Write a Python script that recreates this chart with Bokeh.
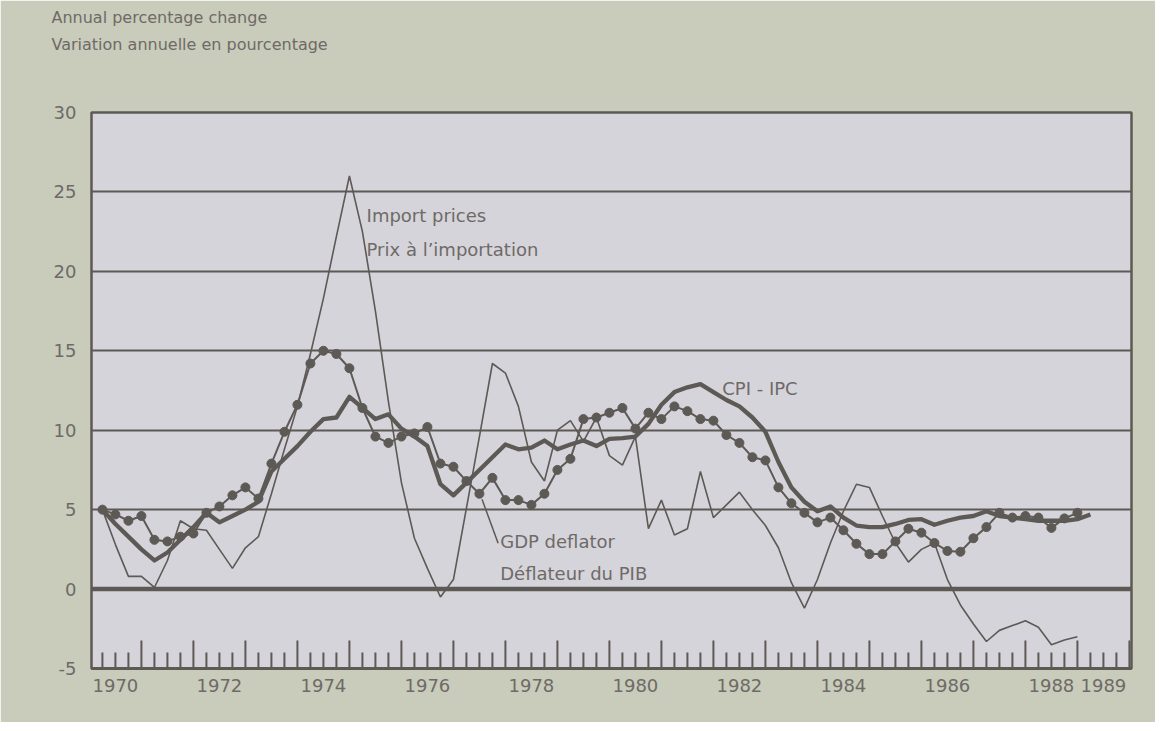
import numpy as np
from bokeh.plotting import figure
from bokeh.models import Range1d, FixedTicker, Label, Span, Title
from bokeh.embed import file_html
from bokeh.resources import INLINE

# ---------------- data (quarterly, annual % change) ----------------
start_year = 1970
gdp_deflator = [5.0, 4.7, 4.3, 4.6, 3.1, 3.0, 3.3, 3.5, 4.8, 5.2, 5.9, 6.4, 5.7, 7.9, 9.9, 11.6,
                14.2, 15.0, 14.8, 13.9, 11.4, 9.6, 9.2, 9.6, 9.8, 10.2, 7.9, 7.7, 6.8, 6.0, 7.0, 5.6,
                5.6, 5.3, 6.0, 7.5, 8.2, 10.7, 10.8, 11.1, 11.4, 10.1, 11.1, 10.7, 11.5, 11.2, 10.7, 10.6,
                9.7, 9.2, 8.3, 8.1, 6.4, 5.4, 4.8, 4.2, 4.5, 3.7, 2.85, 2.2, 2.2, 3.0, 3.8, 3.55,
                2.9, 2.4, 2.35, 3.2, 3.9, 4.8, 4.5, 4.6, 4.5, 3.85, 4.45, 4.8]
cpi = [5.0, 4.1, 3.3, 2.5, 1.8, 2.3, 3.1, 3.9, 4.8, 4.2, 4.6, 5.0, 5.5, 7.4, 8.2, 9.0,
       9.9, 10.7, 10.8, 12.1, 11.4, 10.7, 11.0, 10.1, 9.6, 9.0, 6.6, 5.9, 6.7, 7.5, 8.3, 9.1,
       8.8, 8.9, 9.35, 8.8, 9.1, 9.35, 9.0, 9.45, 9.5, 9.6, 10.4, 11.6, 12.4, 12.7, 12.9, 12.4,
       11.9, 11.5, 10.8, 9.9, 8.0, 6.4, 5.5, 4.9, 5.2, 4.5, 4.0, 3.9, 3.9, 4.1, 4.35, 4.4,
       4.05, 4.3, 4.5, 4.6, 4.9, 4.6, 4.5, 4.4, 4.3, 4.3, 4.3, 4.4, 4.7]
import_prices = [5.0, 2.8, 0.8, 0.8, 0.1, 1.8, 4.3, 3.8, 3.7, 2.5, 1.3, 2.6, 3.3, 6.0, 8.8, 11.5,
                 14.8, 18.3, 22.2, 26.0, 22.5, 17.5, 11.8, 6.7, 3.2, 1.3, -0.5, 0.6, 5.1, 9.6, 14.2, 13.6,
                 11.5, 8.0, 6.8, 10.0, 10.6, 9.3, 10.8, 8.4, 7.8, 9.6, 3.8, 5.6, 3.4, 3.8, 7.4, 4.5,
                 5.3, 6.1, 5.0, 4.0, 2.6, 0.4, -1.2, 0.6, 2.9, 4.9, 6.6, 6.4, 4.6, 2.9, 1.7, 2.5,
                 2.9, 0.6, -1.0, -2.2, -3.3, -2.6, -2.3, -2.0, -2.4, -3.5, -3.2, -3.0]

year_ticks = list(range(1970, 1991))
label_years = [1970, 1972, 1974, 1976, 1978, 1980, 1982, 1984, 1986, 1988, 1989]
y_ticks = [-5, 0, 5, 10, 15, 20, 25, 30]

def quarter_x(values):
    return start_year + (np.arange(len(values)) + 1) / 4.0

x_gdp = quarter_x(gdp_deflator)
x_cpi = quarter_x(cpi)
x_imp = quarter_x(import_prices)

# ---------------- style ----------------
INK = "#5d5955"
TEXT = "#6e6a67"
FONT = "DejaVu Sans"
FS = "18px"
FS_TITLE = "16px"
OUTER = "#c9ccba"
INNER = "#d6d4db"

Y0, Y1 = -5, 30
p = figure(width=1155, height=722, x_range=Range1d(1970.04, 1990.04), y_range=Range1d(Y0, Y1),
           output_backend="svg", toolbar_location=None,
           min_border_left=91, min_border_right=24, min_border_top=0, min_border_bottom=54)
p.background_fill_color = INNER
p.border_fill_color = OUTER
p.outline_line_color = INK
p.outline_line_width = 2.5

# titles: spacer (closest to frame), second line, first line
spacer = Title(text=" ", standoff=38, text_font=FONT, text_font_size=FS_TITLE, text_color=OUTER)
t2 = Title(text="Variation annuelle en pourcentage", align="left", offset=-40, standoff=0,
           text_font=FONT, text_font_size=FS_TITLE, text_font_style="normal", text_color=TEXT)
t1 = Title(text="Annual percentage change", align="left", offset=-40, standoff=11,
           text_font=FONT, text_font_size=FS_TITLE, text_font_style="normal", text_color=TEXT)
p.add_layout(spacer, "above")
p.add_layout(t2, "above")
p.add_layout(t1, "above")

# grid
p.xgrid.visible = False
p.ygrid.ticker = FixedTicker(ticks=y_ticks)
p.ygrid.grid_line_color = INK
p.ygrid.grid_line_width = 2
p.add_layout(Span(location=0, dimension="width", line_color=INK, line_width=4.5))

# y axis
p.yaxis.ticker = FixedTicker(ticks=y_ticks)
p.yaxis.major_label_overrides = {t: str(t) for t in y_ticks}
p.yaxis.major_tick_in = 0
p.yaxis.major_tick_out = 0
p.yaxis.minor_tick_in = 0
p.yaxis.minor_tick_out = 0
p.yaxis.axis_line_color = None
p.yaxis.major_label_standoff = 15
p.yaxis.major_label_text_font = FONT
p.yaxis.major_label_text_font_size = FS
p.yaxis.major_label_text_color = TEXT

# x axis: year labels centred in each year, no tick marks on the axis itself
lab_pos = [y + 0.5 for y in label_years]
p.xaxis.ticker = FixedTicker(ticks=lab_pos)
p.xaxis.major_label_overrides = {pos: str(y) for pos, y in zip(lab_pos, label_years)}
p.xaxis.major_tick_in = 0
p.xaxis.major_tick_out = 0
p.xaxis.minor_tick_in = 0
p.xaxis.minor_tick_out = 0
p.xaxis.axis_line_color = INK
p.xaxis.axis_line_width = 3
p.xaxis.major_label_standoff = 10
p.xaxis.major_label_text_font = FONT
p.xaxis.major_label_text_font_size = FS
p.xaxis.major_label_text_color = TEXT

# inward tick marks: tall at year boundaries, short at quarters
px_per_unit = 556.0 / (Y1 - Y0)
tall = 28 / px_per_unit
short = 16 / px_per_unit
quarter_ticks = [y + q / 4.0 for y in year_ticks[:-1] for q in range(1, 4)]
p.segment(x0=year_ticks, y0=[Y0] * len(year_ticks), x1=year_ticks, y1=[Y0 + tall] * len(year_ticks),
          line_color=INK, line_width=2)
p.segment(x0=quarter_ticks, y0=[Y0] * len(quarter_ticks), x1=quarter_ticks,
          y1=[Y0 + short] * len(quarter_ticks), line_color=INK, line_width=2)

# series
p.line(x_imp, import_prices, line_color=INK, line_width=1.6)
p.line(x_cpi, cpi, line_color=INK, line_width=4.3, line_join="round")
p.line(x_gdp, gdp_deflator, line_color=INK, line_width=2)
p.scatter(x_gdp, gdp_deflator, size=9, fill_color=INK, line_color=INK)

# annotations
def lab(x, y, text):
    p.add_layout(Label(x=x, y=y, text=text, text_font=FONT, text_font_size=FS,
                       text_color=TEXT, text_baseline="middle", text_align="left"))

lab(1975.33, 23.5, "Import prices")
lab(1975.33, 21.37, "Prix à l’importation")
lab(1982.17, 12.62, "CPI - IPC")
gx, gy = 1977.9, 2.99
lab(gx, gy, "GDP deflator")
lab(gx, gy - 2.01, "Déflateur du PIB")
k = 29
p.line([gx - 0.04, x_gdp[k] + 0.05], [gy - 0.1, gdp_deflator[k] - 0.35], line_color=INK, line_width=1.5)

open("out.html", "w").write(file_html(p, INLINE))
